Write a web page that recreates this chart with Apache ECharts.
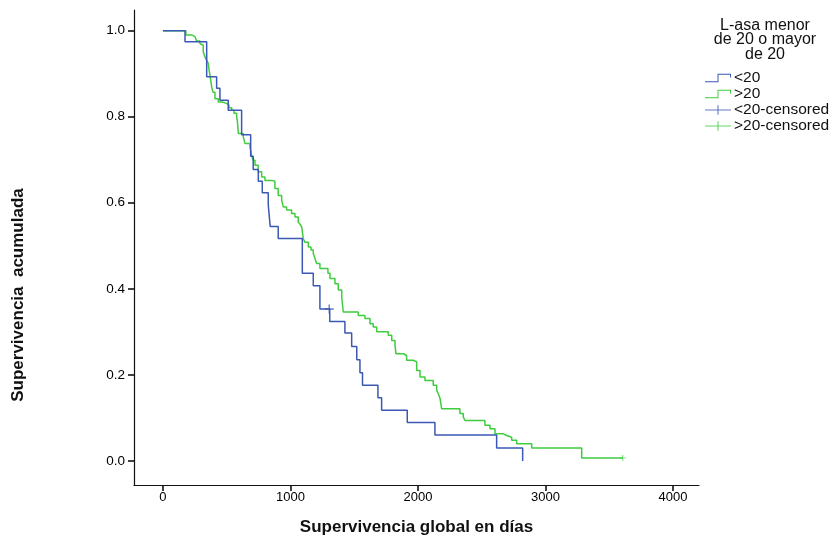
<!DOCTYPE html>
<html>
<head>
<meta charset="utf-8">
<script src="https://cdn.jsdelivr.net/npm/echarts@6/dist/echarts.min.js"></script>
<style>
  html, body { margin: 0; padding: 0; background: #fff; }
  #chart { width: 832px; height: 540px; }
</style>
</head>
<body>
<div id="chart"></div>
<script>
// ── Data ────────────────────────────────────────────────────────────────
// Kaplan–Meier steps: time (days) and cumulative survival after each drop
const lowDays = [0, 173, 343, 421, 447, 512, 617, 688, 708, 748, 779, 826, 841, 904,
  1093, 1179, 1231, 1308, 1427, 1480, 1520, 1545, 1565, 1686, 1715, 1916, 2133, 2617, 2821];
const lowSurv = [1.0, 0.974, 0.893, 0.866, 0.838, 0.815, 0.758, 0.708, 0.677, 0.650, 0.623, 0.595, 0.545, 0.517,
  0.436, 0.407, 0.353, 0.324, 0.297, 0.266, 0.235, 0.205, 0.176, 0.147, 0.118, 0.089, 0.060, 0.030, 0.0];

const highDays = [0, 180, 225, 251, 264, 290, 304, 316, 329, 343, 355, 361, 369, 376, 382, 392, 408,
  434, 463, 500, 518, 539, 557, 578, 584, 591, 630, 643, 682, 696, 706, 722, 747, 774, 800, 853,
  878, 904, 931, 944, 970, 1009, 1035, 1061, 1075, 1088, 1094, 1100, 1114, 1140, 1161, 1179, 1192,
  1205, 1231, 1294, 1310, 1349, 1375, 1402, 1408, 1414, 1532, 1584, 1624, 1649, 1676, 1767, 1794,
  1820, 1827, 1885, 1911, 1963, 1990, 2016, 2055, 2120, 2147, 2161, 2173, 2186, 2329, 2355, 2369,
  2525, 2565, 2604, 2669, 2696, 2735, 2774, 2892, 3284, 3606];
const highSurv = [1.0, 0.990, 0.986, 0.982, 0.976, 0.970, 0.966, 0.951, 0.939, 0.931, 0.924, 0.910, 0.896,
  0.882, 0.869, 0.857, 0.842, 0.834, 0.831, 0.827, 0.821, 0.815, 0.808, 0.799, 0.790, 0.761, 0.753,
  0.738, 0.730, 0.710, 0.699, 0.687, 0.672, 0.660, 0.652, 0.650, 0.633, 0.617, 0.606, 0.590, 0.583,
  0.575, 0.567, 0.555, 0.550, 0.544, 0.531, 0.517, 0.508, 0.497, 0.490, 0.482, 0.471, 0.459, 0.447,
  0.436, 0.424, 0.412, 0.397, 0.381, 0.364, 0.346, 0.338, 0.331, 0.319, 0.311, 0.300, 0.292, 0.280,
  0.269, 0.249, 0.245, 0.234, 0.230, 0.210, 0.195, 0.187, 0.176, 0.164, 0.155, 0.145, 0.121, 0.110,
  0.102, 0.094, 0.083, 0.075, 0.063, 0.059, 0.055, 0.048, 0.040, 0.030, 0.007, 0.007];

// censored observations
const lowCensDays = [1304];
const lowCensSurv = [0.353];
const highCensDays = [3606];
const highCensSurv = [0.007];

const seriesNames = ['<20', '>20', '<20-censored', '>20-censored'];
const legendTitle = 'L-asa menor\nde 20 o mayor\nde 20';
const xTicks = [0, 1000, 2000, 3000, 4000];
const yTicks = [0, 0.2, 0.4, 0.6, 0.8, 1.0];

// ── Styling ─────────────────────────────────────────────────────────────
const fontFamily = '"Liberation Sans", Arial, sans-serif';
const blue = '#3b58b4';
const green = '#3fcc3f';
const axisColor = '#111';

const zip = (a, b) => a.map((v, i) => [v, b[i]]);

const stepIcon = 'path://M0,9 L13,9 L13,1 L27,1 L27,5 L26,5 L26,2 L14,2 L14,10 L0,10 Z';
const censIcon = 'path://M0,4.4 L13.4,4.4 L13.4,0 L14.6,0 L14.6,4.4 L28,4.4 L28,5.6 L14.6,5.6 L14.6,10 L13.4,10 L13.4,5.6 L0,5.6 Z';
const plusSymbol = 'path://M0,3.4 L3.4,3.4 L3.4,0 L4.6,0 L4.6,3.4 L8,3.4 L8,4.6 L4.6,4.6 L4.6,8 L3.4,8 L3.4,4.6 L0,4.6 Z';

const chart = echarts.init(document.getElementById('chart'), null, { renderer: 'canvas' });
chart.setOption({
  animation: false,
  backgroundColor: '#ffffff',
  textStyle: { fontFamily: fontFamily },
  grid: { left: 134, right: 133, top: 10, bottom: 55, containLabel: false, outerBoundsMode: 'none' },
  legend: {
    orient: 'vertical',
    left: 705,
    top: 70,
    padding: 0,
    itemWidth: 26,
    itemHeight: 10,
    itemGap: 0,
    selectedMode: false,
    textStyle: { fontSize: 15.5, lineHeight: 16, color: '#111', fontFamily: fontFamily, padding: [0, 0, 0, -2] },
    data: [
      { name: seriesNames[0], icon: stepIcon },
      { name: seriesNames[1], icon: stepIcon },
      { name: seriesNames[2], icon: censIcon },
      { name: seriesNames[3], icon: censIcon }
    ]
  },
  graphic: [
    {
      type: 'text',
      x: 765, y: 18,
      style: {
        text: legendTitle,
        textAlign: 'center',
        font: '16px ' + fontFamily,
        lineHeight: 14.5,
        fill: '#111'
      }
    },
    {
      type: 'text',
      x: 18, y: 295,
      rotation: Math.PI / 2,
      style: {
        text: 'Supervivencia  acumulada',
        textAlign: 'center',
        textVerticalAlign: 'middle',
        font: 'bold 17px ' + fontFamily,
        fill: '#111'
      }
    }
  ],
  xAxis: {
    type: 'value',
    min: -227,
    max: 4204,
    name: 'Supervivencia global en días',
    nameLocation: 'middle',
    nameGap: 34,
    nameTextStyle: { fontSize: 17, fontWeight: 'bold', color: '#111', fontFamily: fontFamily },
    axisLine: { onZero: false, lineStyle: { color: axisColor, width: 1.2 } },
    axisTick: { show: true, customValues: xTicks, length: 6, lineStyle: { color: axisColor, width: 1.6 } },
    axisLabel: {
      customValues: xTicks, fontSize: 13, color: '#000', margin: 6, fontFamily: fontFamily,
      formatter: (v) => String(v)
    },
    splitLine: { show: false }
  },
  yAxis: {
    type: 'value',
    min: -0.056,
    max: 1.048,
    axisLine: { show: true, onZero: false, lineStyle: { color: axisColor, width: 1.2 } },
    axisTick: { show: true, customValues: yTicks, length: 6, lineStyle: { color: axisColor, width: 1.6 } },
    axisLabel: {
      customValues: yTicks, fontSize: 13.5, color: '#000', margin: 9, fontFamily: fontFamily,
      formatter: (v) => v.toFixed(1)
    },
    splitLine: { show: false }
  },
  series: [
    {
      name: seriesNames[0], type: 'line', step: 'end', data: zip(lowDays, lowSurv),
      showSymbol: false, symbol: 'none', color: blue,
      lineStyle: { color: blue, width: 1.5 }, itemStyle: { color: blue }, z: 3
    },
    {
      name: seriesNames[1], type: 'line', step: 'end', data: zip(highDays, highSurv),
      showSymbol: false, symbol: 'none', color: green,
      lineStyle: { color: green, width: 1.5 }, itemStyle: { color: green }, z: 2
    },
    {
      name: seriesNames[2], type: 'scatter', data: zip(lowCensDays, lowCensSurv),
      symbol: plusSymbol, symbolSize: 9, itemStyle: { color: blue }, z: 4
    },
    {
      name: seriesNames[3], type: 'scatter', data: zip(highCensDays, highCensSurv),
      symbol: plusSymbol, symbolSize: 6, itemStyle: { color: green }, z: 4
    }
  ]
});
</script>
</body>
</html>
